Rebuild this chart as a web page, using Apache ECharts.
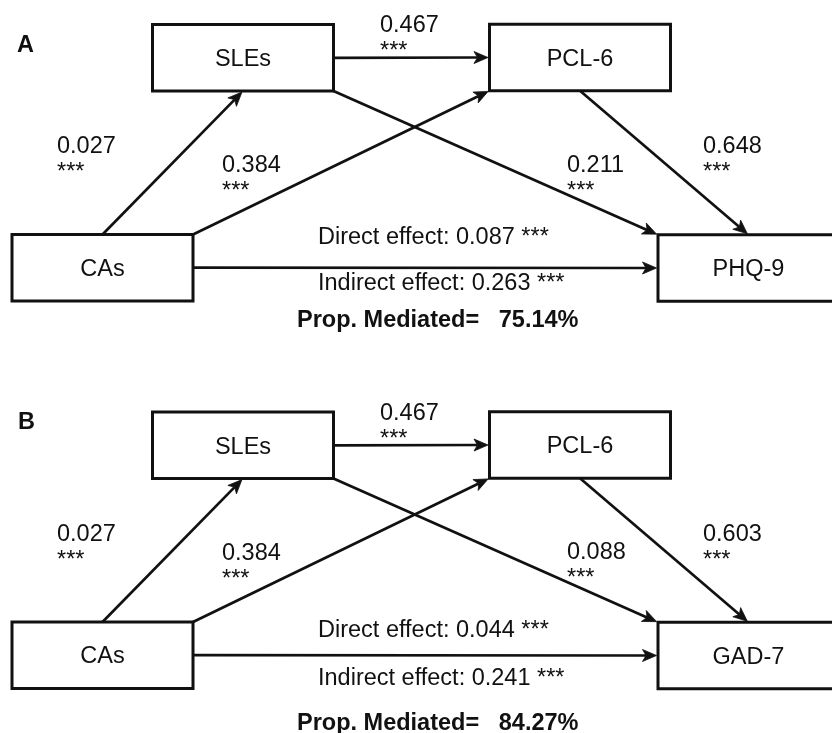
<!DOCTYPE html>
<html>
<head>
<meta charset="utf-8">
<script src="https://cdn.jsdelivr.net/npm/echarts@6/dist/echarts.min.js"></script>
<style>
html,body{margin:0;padding:0;background:#ffffff;}
#chart{width:832px;height:733px;}
</style>
</head>
<body>
<div id="chart"></div>
<script>
// ---------------- data ----------------
const panelLabels = ['A', 'B'];
const predictorName = 'CAs';
const mediator1Name = 'SLEs';
const mediator2Name = 'PCL-6';
const outcomeNames = ['PHQ-9', 'GAD-7'];
// paths: CAs→SLEs, CAs→PCL-6, SLEs→PCL-6, SLEs→outcome, PCL-6→outcome
const pathCoefA = [0.027, 0.384, 0.467, 0.211, 0.648];
const pathCoefB = [0.027, 0.384, 0.467, 0.088, 0.603];
const pathSigA = ['***', '***', '***', '***', '***'];
const pathSigB = ['***', '***', '***', '***', '***'];
const directEffect = [0.087, 0.044];
const indirectEffect = [0.263, 0.241];
const effectSig = ['***', '***'];
const propMediated = [75.14, 84.27];

// ---------------- layout (diagram units) ----------------
const FONT = '"Liberation Sans", Arial, Helvetica, sans-serif';
const FONT_SIZE = '23.5px ';
const INK = '#111111';
const layout = {
  panelOffsetY: [0, 387.5],
  nodeSize: [181, 66.5],
  nodeCenter: [[102.5, 267.7], [243, 57.8], [580, 57.5], [748.5, 268]], // predictor, med1, med2, outcome
  // [fromNode, fromAnchor, toNode, toAnchor]
  edges: [
    [0, 'T', 1, 'B'],
    [0, 'TR', 2, 'BL'],
    [1, 'R', 2, 'L'],
    [1, 'BR', 3, 'TL'],
    [2, 'B', 3, 'T'],
    [0, 'R', 3, 'L']
  ],
  textDy: 1.8,
  coefPos: [[57, 145], [222, 164], [380, 24], [567, 163.5], [703, 145]],
  starDy: 26,
  letterPos: [[17, 43.5], [18, 421]],
  directPos: [[318, 236], [318, 628.5]],
  indirectPos: [[318, 282], [318, 677]],
  propPos: [[297, 318.3], [297, 722]]
};

function anchorPoint(ni, anchor, dy) {
  const c = layout.nodeCenter[ni];
  const hw = layout.nodeSize[0] / 2, hh = layout.nodeSize[1] / 2;
  const x = c[0], y = c[1] + dy;
  switch (anchor) {
    case 'T': return [x, y - hh];
    case 'B': return [x, y + hh];
    case 'L': return [x - hw, y];
    case 'R': return [x + hw, y];
    case 'TR': return [x + hw, y - hh];
    case 'TL': return [x - hw, y - hh];
    case 'BR': return [x + hw, y + hh];
    case 'BL': return [x - hw, y + hh];
  }
}

// build series data
const nodeData = [];
const edgeData = [];
const textData = [];
const textItems = [];
const coefSets = [pathCoefA, pathCoefB];
const sigSets = [pathSigA, pathSigB];

panelLabels.forEach((lab, p) => {
  const dy = layout.panelOffsetY[p];
  const names = [predictorName, mediator1Name, mediator2Name, outcomeNames[p]];
  names.forEach((nm, i) => {
    const c = layout.nodeCenter[i];
    nodeData.push({ value: [c[0], c[1] + dy], name: nm });
  });
  layout.edges.forEach(e => {
    const a = anchorPoint(e[0], e[1], dy);
    const b = anchorPoint(e[2], e[3], dy);
    edgeData.push({ value: [a[0], a[1], b[0], b[1]] });
  });
  function addText(str, pos, bold, yShift) {
    textItems.push({ text: str, bold: bold });
    textData.push({ value: [pos[0], pos[1] + (yShift || 0) + layout.textDy, textItems.length - 1] });
  }
  addText(lab, layout.letterPos[p], true, 0);
  coefSets[p].forEach((v, k) => {
    const pos = layout.coefPos[k];
    addText(v.toFixed(3), pos, false, dy);
    addText(sigSets[p][k], [pos[0], pos[1] + layout.starDy], false, dy);
  });
  addText('Direct effect: ' + directEffect[p].toFixed(3) + ' ' + effectSig[p], layout.directPos[p], false, 0);
  addText('Indirect effect: ' + indirectEffect[p].toFixed(3) + ' ' + effectSig[p], layout.indirectPos[p], false, 0);
  addText('Prop. Mediated=   ' + propMediated[p].toFixed(2) + '%', layout.propPos[p], true, 0);
});

const chart = echarts.init(document.getElementById('chart'), null, { renderer: 'canvas' });
chart.setOption({
  backgroundColor: '#ffffff',
  animation: false,
  grid: { left: 0, right: 0, top: 0, bottom: 0 },
  xAxis: { type: 'value', min: 0, max: 832, show: false },
  yAxis: { type: 'value', min: 0, max: 733, inverse: true, show: false },
  series: [
    {
      type: 'custom',
      name: 'boxes',
      coordinateSystem: 'cartesian2d',
      clip: false,
      z: 2,
      data: nodeData,
      renderItem: function (params, api) {
        const cx = api.value(0), cy = api.value(1);
        const w = layout.nodeSize[0], h = layout.nodeSize[1];
        const p1 = api.coord([cx - w / 2, cy - h / 2]);
        const p2 = api.coord([cx + w / 2, cy + h / 2]);
        const c = api.coord([cx, cy + layout.textDy]);
        const x = Math.min(p1[0], p2[0]), y = Math.min(p1[1], p2[1]);
        return {
          type: 'group',
          children: [
            { type: 'rect', shape: { x: x, y: y, width: Math.abs(p2[0] - p1[0]), height: Math.abs(p2[1] - p1[1]) },
              style: { fill: '#ffffff', stroke: INK, lineWidth: 3 } },
            { type: 'text', x: c[0], y: c[1],
              style: { text: nodeData[params.dataIndex].name, font: FONT_SIZE + FONT, fill: INK, align: 'center', verticalAlign: 'middle' } }
          ]
        };
      }
    },
    {
      type: 'custom',
      name: 'paths',
      coordinateSystem: 'cartesian2d',
      clip: false,
      z: 3,
      data: edgeData,
      renderItem: function (params, api) {
        const a = api.coord([api.value(0), api.value(1)]);
        const b0 = api.coord([api.value(2), api.value(3)]);
        const dx = b0[0] - a[0], dyy = b0[1] - a[1];
        const len = Math.sqrt(dx * dx + dyy * dyy);
        const ux = dx / len, uy = dyy / len;
        const px = -uy, py = ux;
        const b = [b0[0] - ux * 1.5, b0[1] - uy * 1.5];
        const L = 14, W = 6, N = 10.5;
        const base = [b[0] - ux * L, b[1] - uy * L];
        const notch = [b[0] - ux * N, b[1] - uy * N];
        return {
          type: 'group',
          children: [
            { type: 'line', shape: { x1: a[0], y1: a[1], x2: notch[0], y2: notch[1] },
              style: { stroke: INK, lineWidth: 2.7 } },
            { type: 'polygon', shape: { points: [b, [base[0] + px * W, base[1] + py * W], notch, [base[0] - px * W, base[1] - py * W]] },
              style: { fill: INK, stroke: INK, lineWidth: 0.8, lineJoin: 'miter' } }
          ]
        };
      }
    },
    {
      type: 'custom',
      name: 'labels',
      coordinateSystem: 'cartesian2d',
      clip: false,
      z: 4,
      data: textData,
      renderItem: function (params, api) {
        const p = api.coord([api.value(0), api.value(1)]);
        const t = textItems[api.value(2)];
        return {
          type: 'text', x: p[0], y: p[1],
          style: { text: t.text, font: (t.bold ? 'bold ' : '') + FONT_SIZE + FONT, fill: INK, align: 'left', verticalAlign: 'middle' }
        };
      }
    }
  ]
});
</script>
</body>
</html>
